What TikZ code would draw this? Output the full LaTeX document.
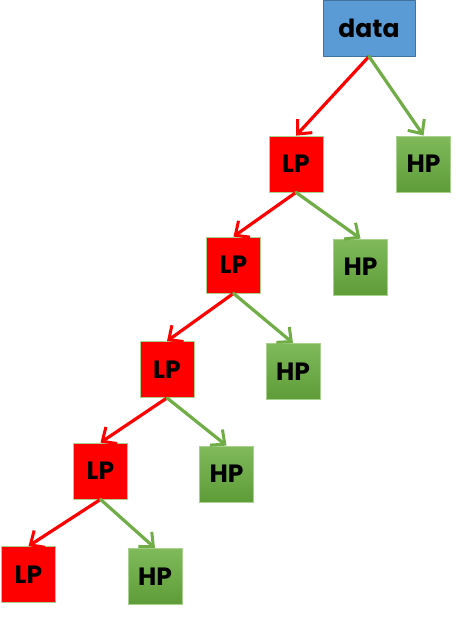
\documentclass[tikz,border=0pt]{standalone}
\usepackage{fontspec}
\setmainfont{Poppins}
\usetikzlibrary{arrows.meta}
\definecolor{boxblue}{HTML}{5B9BD5}
\definecolor{blueline}{HTML}{41719C}
\definecolor{lpred}{HTML}{FF0000}
\definecolor{hpgreen}{HTML}{70AD47}
\definecolor{hptop}{HTML}{80BA5B}
\definecolor{hpbot}{HTML}{5E9C38}
\definecolor{edgegreen}{HTML}{A9D18E}
\tikzset{
  box/.style={minimum width=54pt, minimum height=56pt, inner sep=0pt, line width=0.8pt, font=\fontsize{25}{28}\selectfont\bfseries},
  databox/.style={box, minimum width=92pt, fill=boxblue, draw=blueline},
  lpbox/.style={box, fill=lpred, draw=edgegreen},
  hpbox/.style={box, top color=hptop, bottom color=hpbot, draw=edgegreen},
  lparrow/.style={-{Straight Barb[length=11pt,width=20pt,line width=3pt]}, line width=3.2pt, lpred},
  hparrow/.style={-{Straight Barb[length=11pt,width=20pt,line width=3pt]}, line width=3.2pt, hpgreen}
}
\begin{document}
\begin{tikzpicture}[x=1pt, y=-1pt, line cap=round, line join=round]
  \useasboundingbox (0,0) rectangle (457,629);
  \node[databox] (data) at (369,28) {data};

  \node[lpbox] (lp1) at (296,164) {LP};
  \node[hpbox] (hp1) at (423.5,164) {HP};
  \node[lpbox] (lp2) at (233.5,265) {LP};
  \node[hpbox] (hp2) at (360.5,267) {HP};
  \node[lpbox] (lp3) at (167,369.5) {LP};
  \node[hpbox] (hp3) at (293,371.5) {HP};
  \node[lpbox] (lp4) at (100.5,471) {LP};
  \node[hpbox] (hp4) at (226.5,474) {HP};
  \node[lpbox] (lp5) at (28.5,574.5) {LP};
  \node[hpbox] (hp5) at (155,576.5) {HP};

  \draw[lparrow] (data.south) -- (lp1.north);
  \draw[hparrow] (data.south) -- (hp1.north);
  \draw[lparrow] (lp1.south) -- (lp2.north);
  \draw[hparrow] (lp1.south) -- (hp2.north);
  \draw[lparrow] (lp2.south) -- (lp3.north);
  \draw[hparrow] (lp2.south) -- (hp3.north);
  \draw[lparrow] (lp3.south) -- (lp4.north);
  \draw[hparrow] (lp3.south) -- (hp4.north);
  \draw[lparrow] (lp4.south) -- (lp5.north);
  \draw[hparrow] (lp4.south) -- (hp5.north);
\end{tikzpicture}
\end{document}
